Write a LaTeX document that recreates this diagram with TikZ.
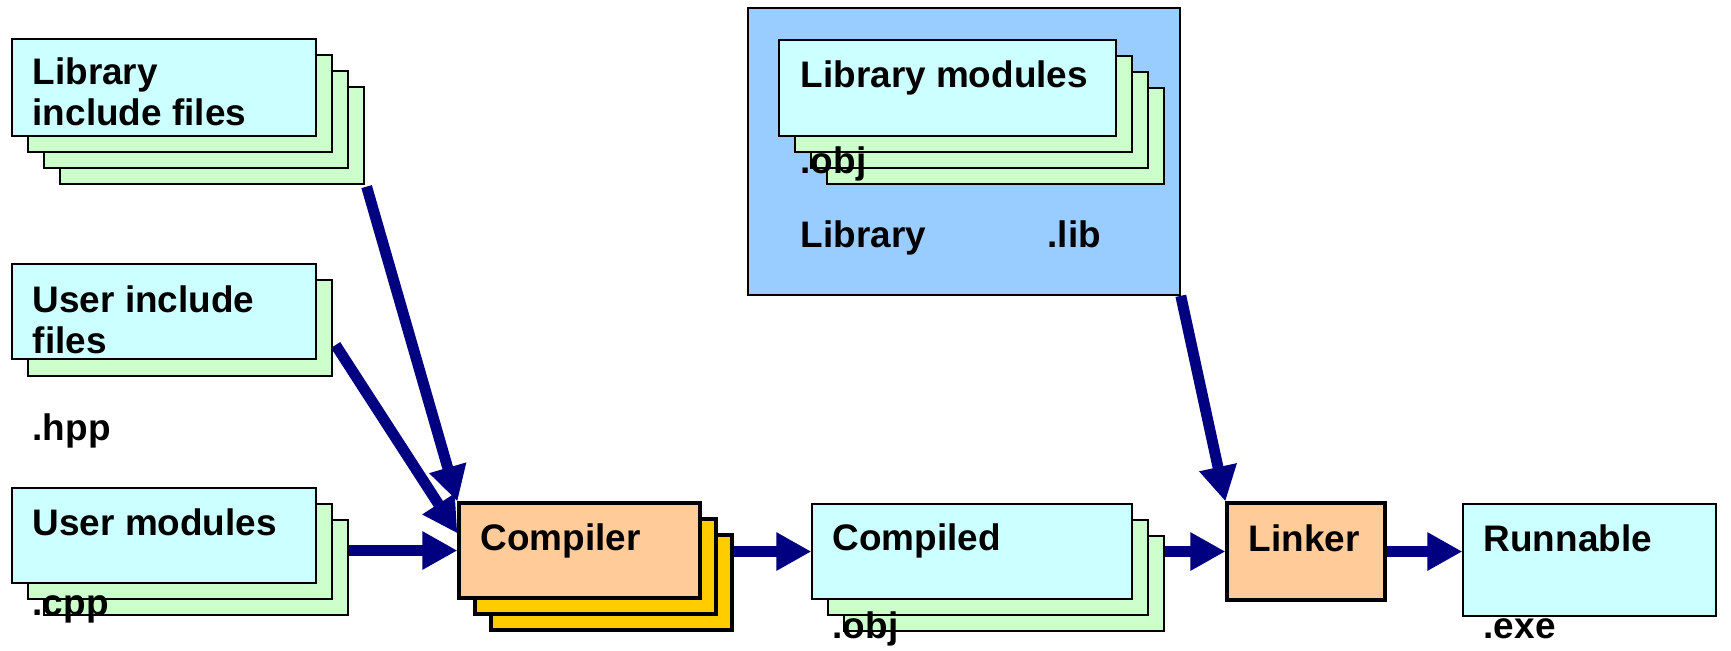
\documentclass[tikz,border=0pt]{standalone}
\usepackage{fontspec}
\setmainfont{Liberation Sans}
\usetikzlibrary{arrows.meta,fit,calc}

\definecolor{sheetfill}{HTML}{CCFFFF}
\definecolor{backfill}{HTML}{CCFFCC}
\definecolor{libfill}{HTML}{99CCFF}
\definecolor{toolfill}{HTML}{FFCC99}
\definecolor{backtoolfill}{HTML}{FFCC00}
\definecolor{flowblue}{HTML}{000080}

\begin{document}
\begin{tikzpicture}[x=0.01cm,y=-0.01cm,
    font=\fontsize{10.5}{11.4}\selectfont\bfseries,
    sheet/.style={draw,fill=sheetfill,line width=0.35pt,inner sep=0pt},
    backsheet/.style={sheet,fill=backfill},
    tool/.style={draw,fill=toolfill,line width=0.9pt,inner sep=0pt},
    backtool/.style={tool,fill=backtoolfill},
    txt/.style={anchor=base west,inner sep=0pt,align=left},
    flow/.style={draw=flowblue,line width=3.1pt,
      -{Triangle[length=0.35cm,width=0.36cm]}}]
  \useasboundingbox (0,0) rectangle (1731,650);

  % library with its modules
  \node[draw,fill=libfill,line width=0.45pt,inner sep=0pt,
    fit={(748,8) (1180,295)}] (libbox) {};
  \foreach \k in {3,2,1}
    \node[backsheet,fit={(779+16*\k,40+16*\k) (1116+16*\k,136+16*\k)}] (libmod-\k) {};
  \node[sheet,fit={(779,40) (1116,136)}] (libmod) {};
  \node[txt] (libmodtxt) at (800,87) {Library modules};
  \node[txt] (libobj) at (800,173) {.obj};
  \node[txt] (libname) at (800,247) {Library};
  \node[txt] (libext) at (1047,247) {.lib};

  % library include files (base = last line)
  \foreach \k in {3,2,1}
    \node[backsheet,fit={(12+16*\k,39+16*\k) (316+16*\k,136+16*\k)}] (libinc-\k) {};
  \node[sheet,fit={(12,39) (316,136)}] (libinc) {};
  \node[txt] (libinctxt) at (32,125) {Library\\include files};

  % user include files
  \node[backsheet,fit={(28,280) (332,376)}] (userinc-1) {};
  \node[sheet,fit={(12,264) (316,359)}] (userinc) {};
  \node[txt] (userinctxt) at (32,353) {User include\\files};
  \node[txt] (hpp) at (32,440) {.hpp};

  % user modules
  \foreach \k in {2,1}
    \node[backsheet,fit={(12+16*\k,488+16*\k) (316+16*\k,583+16*\k)}] (usermod-\k) {};
  \node[sheet,fit={(12,488) (316,583)}] (usermod) {};
  \node[txt] (usermodtxt) at (32,535) {User modules};
  \node[txt] (cpp) at (32,615) {.cpp};

  % compiler
  \foreach \k in {2,1}
    \node[backtool,fit={(459+16*\k,503+16*\k) (700+16*\k,598+16*\k)}] (comp-\k) {};
  \node[tool,fit={(459,503) (700,598)}] (comp) {};
  \node[txt] (comptxt) at (480,550) {Compiler};

  % compiled modules
  \foreach \k in {2,1}
    \node[backsheet,fit={(812+16*\k,504+16*\k) (1132+16*\k,599+16*\k)}] (compd-\k) {};
  \node[sheet,fit={(812,504) (1132,599)}] (compd) {};
  \node[txt] (compdtxt) at (832,550) {Compiled};
  \node[txt] (obj) at (832,638) {.obj};

  % linker and result
  \node[tool,fit={(1227,503) (1385,600)}] (link) {};
  \node[txt] (linktxt) at (1248,551) {Linker};
  \node[sheet,fit={(1463,504) (1716,616)}] (run) {};
  \node[txt] (runtxt) at (1483,551) {Runnable};
  \node[txt] (exe) at (1483,638) {.exe};

  % flow
  \draw[flow] ($(libinc-3.south east)+(2,2)$) -- (comp.north west);
  \draw[flow] ($(userinc-1.east)+(3,17)$) -- (comp.172);
  \draw[flow] (usermod-2.east |- comp.west) -- (comp.west);
  \draw[flow] (comp-2.east |- compd.west) -- (compd.west);
  \draw[flow] (compd-2.east |- link.west) -- (link.west);
  \draw[flow] (link.east) -- (link.east -| run.west);
  \draw[flow] (libbox.south east) -- (link.north west);
\end{tikzpicture}
\end{document}
